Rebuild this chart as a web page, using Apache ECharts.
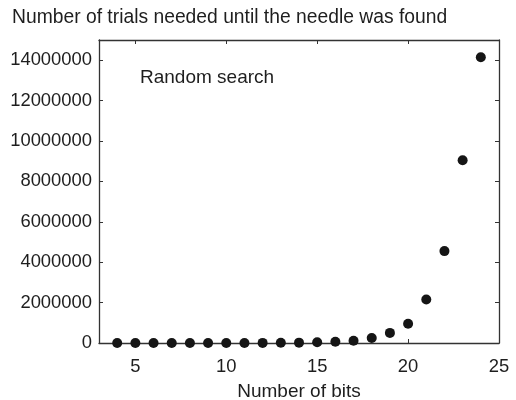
<!DOCTYPE html>
<html>
<head>
<meta charset="utf-8">
<script src="https://cdn.jsdelivr.net/npm/echarts@6/dist/echarts.min.js"></script>
<style>html,body{margin:0;padding:0;background:#fff}#c{width:516px;height:400px}</style>
</head>
<body>
<div id="c"></div>
<script>
const bits = [4,5,6,7,8,9,10,11,12,13,14,15,16,17,18,19,20,21,22,23,24];
const trials = [20,40,80,150,300,600,1200,2500,5000,9000,17000,35000,65000,110000,250000,500000,950000,2150000,4550000,9050000,14150000];
const xTicks = [5,10,15,20,25];
const yTicks = [0,2000000,4000000,6000000,8000000,10000000,12000000,14000000];
const titleText = 'Number of trials needed until the needle was found';
const xName = 'Number of bits';
const annotation = 'Random search';

const font = 'Liberation Sans, Arial, sans-serif';
const axisCol = '#333';
const textCol = '#1e1e1e';
const chart = echarts.init(document.getElementById('c'));
const baseAxis = {
  axisLine: {show: true, onZero: false, lineStyle: {color: axisCol, width: 1.3}},
  splitLine: {show: false}
};
chart.setOption({
  animation: false,
  backgroundColor: '#fff',
  title: {text: titleText, left: 12, top: 8, padding: 0,
    textStyle: {fontFamily: font, fontSize: 19.3, fontWeight: 'normal', color: textCol}},
  grid: {left: 99, right: 17, top: 40, bottom: 57, outerBoundsMode: 'none', containLabel: false},
  graphic: [{type: 'text', left: 140, top: 68,
    style: {text: annotation, fontFamily: font, fontSize: 19, fill: textCol}}],
  xAxis: [
    Object.assign({}, baseAxis, {type: 'value', min: 3, max: 25, position: 'bottom',
      name: xName, nameLocation: 'middle', nameGap: 39,
      nameTextStyle: {fontFamily: font, fontSize: 19, color: textCol},
      axisTick: {show: true, inside: true, length: 4, customValues: xTicks, lineStyle: {color: axisCol}},
      axisLabel: {customValues: xTicks, margin: 15, fontFamily: font, fontSize: 18.4, color: textCol}}),
    Object.assign({}, baseAxis, {type: 'value', min: 3, max: 25, position: 'top',
      axisTick: {show: true, inside: true, length: 4, customValues: xTicks, lineStyle: {color: axisCol}},
      axisLabel: {show: false}})
  ],
  yAxis: [
    Object.assign({}, baseAxis, {type: 'value', min: 0, max: 15000000, position: 'left',
      axisTick: {show: true, inside: true, length: 4, customValues: yTicks, lineStyle: {color: axisCol}},
      axisLabel: {customValues: yTicks, margin: 7, fontFamily: font, fontSize: 18.4, color: textCol,
        formatter: v => String(Math.round(v))}}),
    Object.assign({}, baseAxis, {type: 'value', min: 0, max: 15000000, position: 'right',
      axisTick: {show: true, inside: true, length: 4, customValues: yTicks, lineStyle: {color: axisCol}},
      axisLabel: {show: false}})
  ],
  series: [{
    type: 'scatter', xAxisIndex: 0, yAxisIndex: 0, clip: false,
    symbolSize: 10,
    itemStyle: {color: '#151515', opacity: 1},
    data: bits.map((b, i) => [b, trials[i]])
  }]
});
</script>
</body>
</html>
